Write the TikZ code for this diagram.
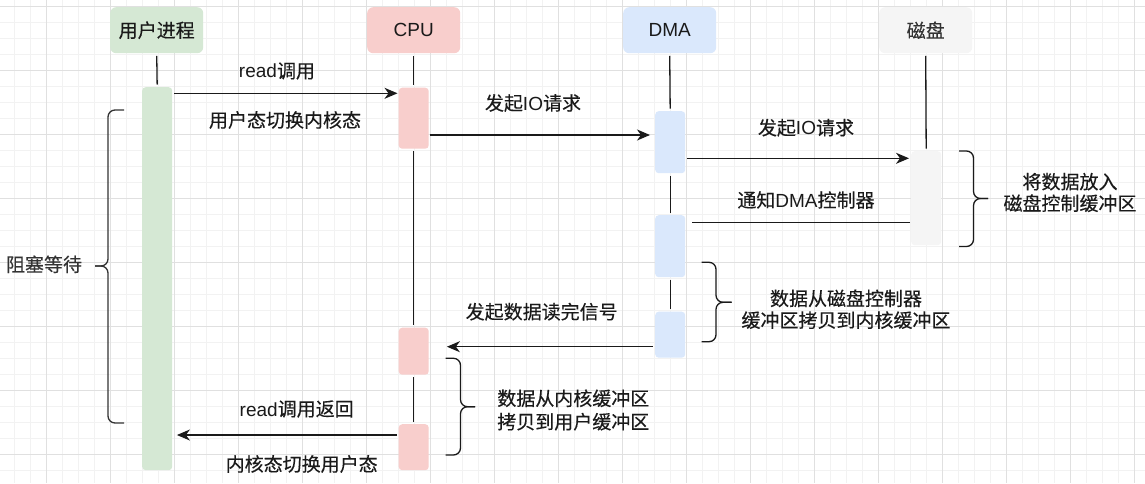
\documentclass[tikz,border=0pt]{standalone}
\usepackage{fontspec}
\setmainfont{Liberation Sans}
\newfontfamily\cjk[FakeBold=0.3]{Noto Sans CJK SC}
\usetikzlibrary{arrows.meta}
\definecolor{ugreen}{HTML}{D5E8D4}
\definecolor{cred}{HTML}{F8CECC}
\definecolor{dblue}{HTML}{DAE8FC}
\definecolor{kgray}{HTML}{F5F5F5}
\definecolor{minorgrid}{HTML}{F2F2F2}
\definecolor{majorgrid}{HTML}{E0E0E0}
\definecolor{ink}{HTML}{1A1A1A}
\definecolor{soft}{HTML}{333333}
\newcommand{\zh}[1]{{\cjk #1}}
\begin{document}
\begin{tikzpicture}[x=1pt,y=-1pt,
  header/.style={rounded corners=6pt, minimum width=93pt, minimum height=46pt, inner sep=0pt,
    font=\fontsize{19}{22}\selectfont, text=ink, anchor=north west},
  bar/.style={rounded corners=3.5pt, minimum width=30pt, inner sep=0pt, anchor=north west},
  life/.style={line width=1.3pt, draw=ink, shorten >=2.5pt, shorten <=2.5pt},
  msg/.style={line width=1.3pt, draw=ink, -{Stealth[length=13pt,width=11pt,inset=4pt]}},
  plainmsg/.style={line width=1.3pt, draw=ink},
  lbl/.style={font=\fontsize{19}{22}\selectfont, text=ink, inner sep=0pt},
  note/.style={font=\fontsize{19}{22}\selectfont, text=ink, inner sep=0pt, align=center},
  brc/.style={line width=1.3pt, rounded corners=7pt},
]
\useasboundingbox (0,0) rectangle (1145,483);
\fill[white] (0,0) rectangle (1145,483);
% grid
\foreach \x in {14,30,...,1142} \draw[minorgrid, line width=0.8pt] (\x,0) -- (\x,483);
\foreach \y in {6,22,...,482} \draw[minorgrid, line width=0.8pt] (0,\y) -- (1145,\y);
\foreach \x in {46,110,...,1142} \draw[majorgrid, line width=0.9pt] (\x,0) -- (\x,483);
\foreach \y in {6,70,...,470} \draw[majorgrid, line width=0.9pt] (0,\y) -- (1145,\y);

% headers
\node[header, fill=ugreen] (hu) at (110,7) {\zh{用户进程}};
\node[header, fill=cred] (hc) at (367,7) {CPU};
\node[header, fill=dblue] (hd) at (623,7) {DMA};
\node[header, fill=kgray, text=soft] (hk) at (879,7) {\zh{磁盘}};

% activation bars
\node[bar, fill=ugreen, minimum height=383pt] (u1) at (142,87) {};
\node[bar, fill=cred, minimum height=61pt] (c1) at (398.5,87.5) {};
\node[bar, fill=cred, minimum height=47pt] (c2) at (398.5,327.5) {};
\node[bar, fill=cred, minimum height=46pt] (c3) at (398.5,424) {};
\node[bar, fill=dblue, minimum height=62pt] (d1) at (655,111) {};
\node[bar, fill=dblue, minimum height=62pt] (d2) at (655,215) {};
\node[bar, fill=dblue, minimum height=46pt] (d3) at (655,311.5) {};
\node[bar, fill=kgray, minimum height=94pt] (k1) at (911,151) {};

% lifelines
\draw[life] (hu.south) -- (u1.north);
\draw[life] (hc.south) -- (c1.north);
\draw[life] (c1.south) -- (c2.north);
\draw[life] (c2.south) -- (c3.north);
\draw[life] (hd.south) -- (d1.north);
\draw[life] (d1.south) -- (d2.north);
\draw[life] (d2.south) -- (d3.north);
\draw[life] (hk.south) -- (k1.north);

% messages
\draw[msg, shorten <=2pt, shorten >=1pt] (u1.east |- 0,93.3) -- (c1.west |- 0,93.3);
\node[lbl] (t1) at (277,71) {read\zh{调用}};
\node[lbl] (t2) at (285,120) {\zh{用户态切换内核态}};

\draw[msg, shorten <=1pt, shorten >=5pt] (c1.east |- 0,135) -- (d1.west |- 0,135);
\node[lbl] (t3) at (533,103) {\zh{发起}IO\zh{请求}};

\draw[msg, shorten <=1.5pt, shorten >=2pt] (d1.east |- 0,158.3) -- (k1.west |- 0,158.3);
\node[lbl] (t4) at (806,127.7) {\zh{发起}IO\zh{请求}};

\draw[plainmsg, shorten <=1pt, shorten >=7pt] (k1.west |- 0,222.7) -- (d2.east |- 0,222.7);
\node[lbl] (t5) at (806,200) {\zh{通知}DMA\zh{控制器}};

\draw[msg, shorten <=2pt, shorten >=18pt] (d3.west |- 0,346.7) -- (c2.east |- 0,346.7);
\node[lbl] (t6) at (541.7,311.7) {\zh{发起数据读完信号}};

\draw[msg, shorten <=1.5pt, shorten >=4.5pt] (c3.west |- 0,435) -- (u1.east |- 0,435);
\node[lbl] (t7) at (296.7,409) {read\zh{调用返回}};
\node[lbl] (t8) at (301.7,464) {\zh{内核态切换用户态}};

% braces
% left brace (blocking wait)
\draw[brc, soft] (124,110) -- (108,110) -- (108,266) -- (95,266);
\draw[brc, soft] (95,266) -- (108,266) -- (108,423) -- (124,423);
\node[lbl, text=soft] (t9) at (44,264.3) {\zh{阻塞等待}};

% disk brace
\draw[brc, ink] (959,151) -- (973.5,151) -- (973.5,198.5) -- (988,198.5);
\draw[brc, ink] (988,198.5) -- (973.5,198.5) -- (973.5,246.5) -- (959,246.5);
\node[note, font=\fontsize{19}{21.6}\selectfont\cjk] (t10) at (1070,192.5) {将数据放入\\磁盘控制缓冲区};

% DMA brace
\draw[brc, ink] (701.7,262.3) -- (716,262.3) -- (716,302.3) -- (731.7,302.3);
\draw[brc, ink] (731.7,302.3) -- (716,302.3) -- (716,341.7) -- (701.7,341.7);
\node[note, font=\fontsize{19}{21.7}\selectfont\cjk] (t11) at (846,309.2) {数据从磁盘控制器\\缓冲区拷贝到内核缓冲区};

% CPU brace
\draw[brc, ink] (445.7,358.3) -- (460.5,358.3) -- (460.5,406.7) -- (475,406.7);
\draw[brc, ink] (475,406.7) -- (460.5,406.7) -- (460.5,455) -- (445.7,455);
\node[note, font=\fontsize{19}{23.4}\selectfont\cjk] (t12) at (573.3,410) {数据从内核缓冲区\\拷贝到用户缓冲区};
\end{tikzpicture}
\end{document}
